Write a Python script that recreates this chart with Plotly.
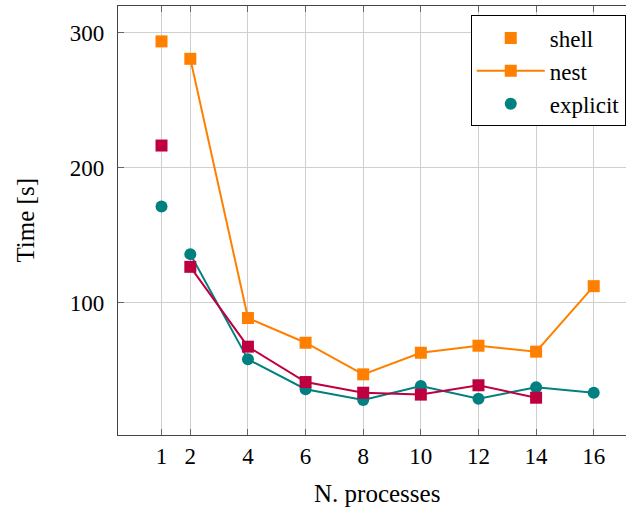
import plotly.graph_objects as go

# Data
x_single = [1]
x_nest = [2, 4, 6, 8, 10, 12, 14, 16]
x_purple = [2, 4, 6, 8, 10, 12, 14]
x_teal = [2, 4, 6, 8, 10, 12, 14, 16]

shell_t = [293.5]
nest_t = [280.6, 88.7, 70.4, 47.0, 63.0, 68.2, 63.8, 112.3]
explicit_t = [171.3]
purple_single_t = [216.4]
purple_t = [126.6, 67.5, 41.3, 33.4, 32.0, 38.9, 29.7]
teal_t = [136.0, 58.1, 36.0, 28.0, 38.4, 29.0, 37.4, 33.4]

x_ticks = [1, 2, 4, 6, 8, 10, 12, 14, 16]
y_ticks = [100, 200, 300]

ORANGE = "#FF8000"
TEAL = "#008080"
PURPLE = "#BF0040"
FONT = "Liberation Serif"

fig = go.Figure()

fig.add_trace(go.Scatter(x=x_single, y=shell_t, mode="markers", name="shell",
                         marker=dict(symbol="square", size=12, color=ORANGE)))
fig.add_trace(go.Scatter(x=x_nest, y=nest_t, mode="lines+markers", name="nest",
                         line=dict(color=ORANGE, width=2),
                         marker=dict(symbol="square", size=12, color=ORANGE)))
fig.add_trace(go.Scatter(x=x_single, y=explicit_t, mode="markers", name="explicit",
                         marker=dict(symbol="circle", size=12, color=TEAL)))
fig.add_trace(go.Scatter(x=x_teal, y=teal_t, mode="lines+markers", showlegend=False,
                         line=dict(color=TEAL, width=2),
                         marker=dict(symbol="circle", size=12, color=TEAL)))
fig.add_trace(go.Scatter(x=x_single, y=purple_single_t, mode="markers", showlegend=False,
                         marker=dict(symbol="square", size=12, color=PURPLE)))
fig.add_trace(go.Scatter(x=x_purple, y=purple_t, mode="lines+markers", showlegend=False,
                         line=dict(color=PURPLE, width=2),
                         marker=dict(symbol="square", size=12, color=PURPLE)))

fig.update_layout(
    width=626, height=510,
    margin=dict(l=118, r=0, t=6, b=75),
    paper_bgcolor="white", plot_bgcolor="white",
    font=dict(family=FONT, size=23, color="black"),
    legend=dict(x=0.9995, y=0.978, xanchor="right", yanchor="top",
                bgcolor="white", bordercolor="black", borderwidth=1,
                font=dict(family=FONT, size=23), itemwidth=68),
    xaxis=dict(range=[-0.51, 17.12], tickvals=x_ticks, ticktext=[str(v) for v in x_ticks],
               showgrid=True, gridcolor="#cfcfcf", gridwidth=1.3,
               showline=True, linecolor="#444444", linewidth=1.3, mirror="ticks",
               ticks="inside", ticklen=6, tickcolor="#666666", tickwidth=1,
               ticklabelstandoff=0, zeroline=False),
    yaxis=dict(range=[2.1, 319.7], tickvals=y_ticks,
               showgrid=True, gridcolor="#cfcfcf", gridwidth=1.3,
               showline=True, linecolor="#444444", linewidth=1.3, mirror=False,
               ticks="inside", ticklen=6, tickcolor="#666666", tickwidth=1,
               ticklabelstandoff=8, zeroline=False),
    annotations=[
        dict(text="N. processes", xref="paper", yref="paper", x=0.51, y=-0.137,
             xanchor="center", yanchor="middle", showarrow=False,
             font=dict(family=FONT, size=25)),
        dict(text="Time [s]", xref="paper", yref="paper", x=-0.183, y=0.5,
             xanchor="center", yanchor="middle", textangle=-90, showarrow=False,
             font=dict(family=FONT, size=25)),
    ],
)

fig.write_html("out.html")
